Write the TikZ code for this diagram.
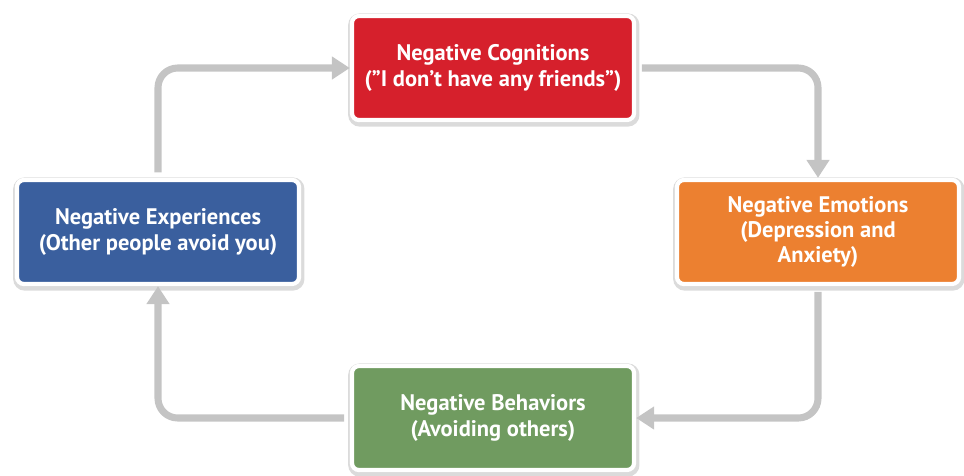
\documentclass[tikz,border=0pt]{standalone}
\usepackage{fontspec}
\setmainfont{PT Sans}
\usetikzlibrary{positioning,arrows.meta,shadows}

\definecolor{cogred}{RGB}{214,32,44}
\definecolor{emoorange}{RGB}{236,128,48}
\definecolor{behgreen}{RGB}{112,155,96}
\definecolor{expblue}{RGB}{58,95,158}
\definecolor{loopgray}{RGB}{196,196,196}

\begin{document}
\begin{tikzpicture}[x=0.025cm, y=-0.025cm,
  box/.style={draw=white, line width=3pt, rounded corners=5pt, text=white,
    font=\fontsize{16}{18}\selectfont\bfseries, align=center,
    minimum width=7.05cm, minimum height=2.6cm,
    general shadow={fill=black!40, draw=black!40, line width=6.5pt,
      opacity=0.35, shadow xshift=0.2mm, shadow yshift=-0.5mm}},
  flow/.style={draw=loopgray, line width=5pt, rounded corners=14pt,
    shorten <=4pt, -{Triangle[length=4.5mm, width=5.5mm]}}]
\useasboundingbox (0,0) rectangle (964,475);
\node[box, fill=cogred] (cog) at (493, 68) {Negative Cognitions\\(”I don't have any friends”)};
\node[box, fill=emoorange] (emo) at (818, 232) {Negative Emotions\\(Depression and\\Anxiety)};
\node[box, fill=behgreen] (beh) at (493, 418) {Negative Behaviors\\(Avoiding others)};
\node[box, fill=expblue] (exp) at (158, 232) {Negative Experiences\\(Other people avoid you)};
% the loop
\draw[flow] (cog.east) -| (emo.north);
\draw[flow] (emo.south) |- (beh.east);
\draw[flow] (beh.west) -| (exp.south);
\draw[flow] (exp.north) |- (cog.west);
\end{tikzpicture}
\end{document}
